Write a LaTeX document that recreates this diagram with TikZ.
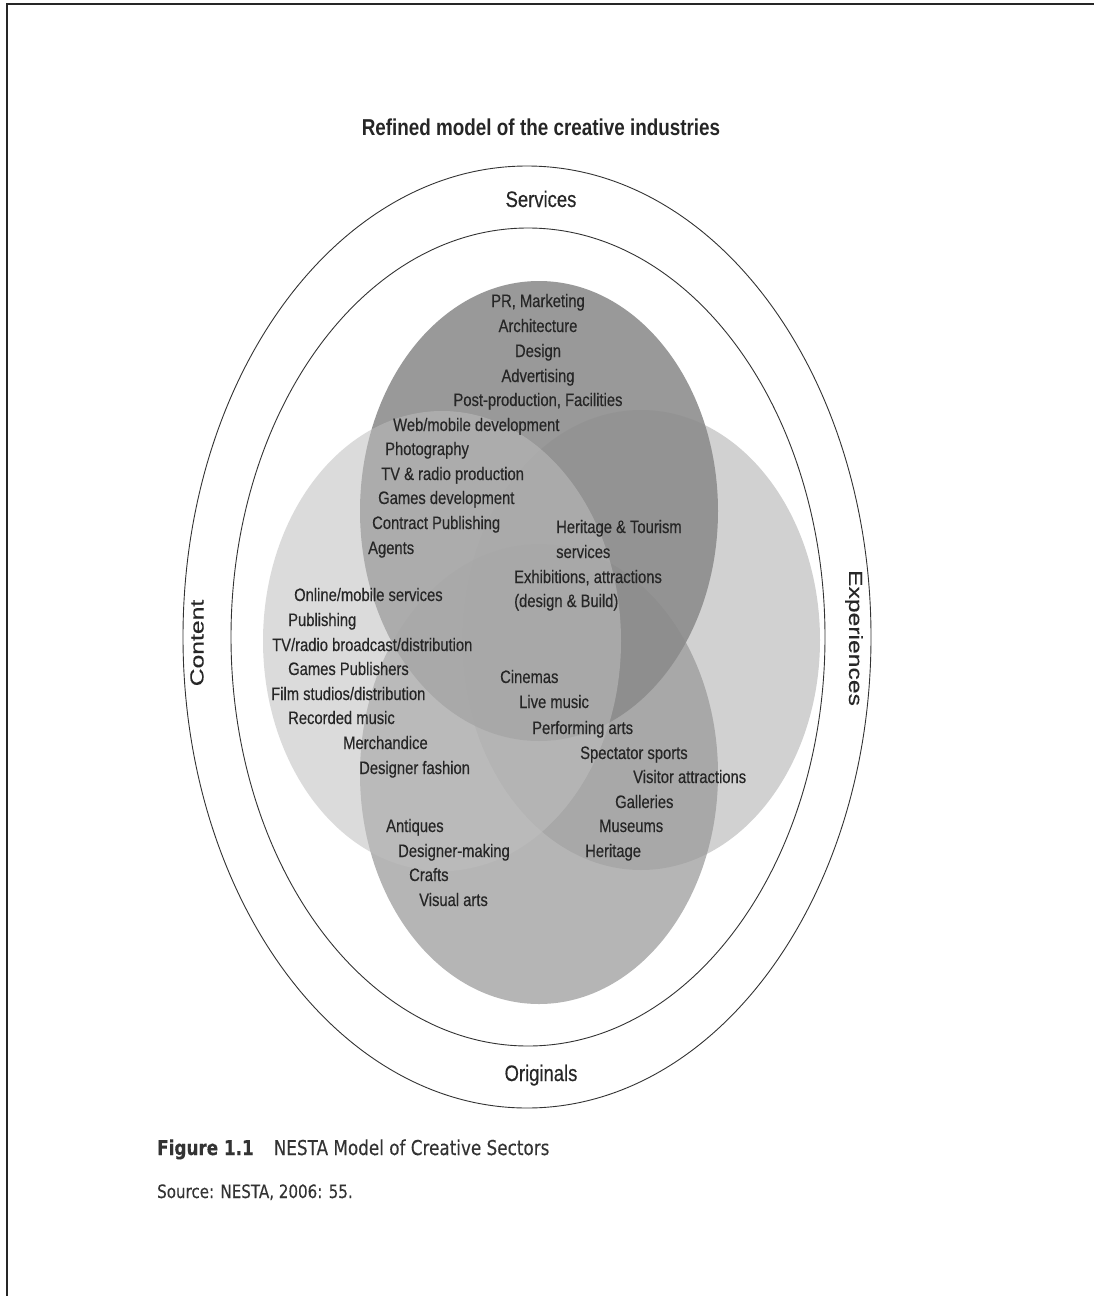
\documentclass[tikz,border=0pt]{standalone}
\usepackage{fontspec}
\setmainfont{Liberation Sans}
\newfontfamily\itemfont[FakeStretch=0.82, FakeBold=0.35]{Liberation Sans}
\newfontfamily\titlefont[FakeStretch=0.82]{Liberation Sans Bold}
\newfontfamily\sidefont[FakeStretch=1.3, FakeBold=0.3]{Liberation Sans}
\newfontfamily\capfont[FakeStretch=0.82, FakeBold=0.25]{DejaVu Sans}

\definecolor{inktext}{gray}{0.15}
\definecolor{captext}{gray}{0.2}
\definecolor{ringline}{gray}{0.2}
\definecolor{servicesgray}{gray}{0.55}
\definecolor{contentgray}{gray}{0.745}
\definecolor{experiencesgray}{gray}{0.70}
\definecolor{originalsgray}{gray}{0.60}

\def\discrx{179}
\def\discry{230}

\begin{document}
\begin{tikzpicture}[x=1pt, y=-1pt]
    \tikzstyle{ring}=[draw=ringline, line width=0.9pt]
    \tikzstyle{item}=[inner sep=0pt, anchor=base west, text=inktext, font=\itemfont\fontsize{18}{20}\selectfont]
    \tikzstyle{sector}=[inner sep=0pt, anchor=base, text=inktext, font=\itemfont\fontsize{22.5}{24}\selectfont]
    \tikzstyle{side}=[inner sep=0pt, text=inktext, font=\sidefont\fontsize{19}{21}\selectfont]
    \tikzstyle{caption}=[inner sep=0pt, anchor=base west, text=captext, font=\capfont\fontsize{20.5}{22}\selectfont]

    \useasboundingbox (0,0) rectangle (1094,1296);

    % Page frame (only the top and left edges show)
    \draw[line width=2pt, black!85] (1094,4) -- (7,4) -- (7,1296);

    \node[item, anchor=base, font=\titlefont\fontsize{23}{25}\selectfont] (title) at (541,135) {Refined model of the creative industries};

    % Outer and inner rings
    \draw[ring] (527,637) ellipse [x radius=344, y radius=471];
    \draw[ring] (528,637) ellipse [x radius=297, y radius=409];

    % The four sector discs, lighter ones laid over the darker ones
    \fill[experiencesgray, opacity=0.6] (641,640) ellipse [x radius=\discrx, y radius=\discry];
    \fill[originalsgray, opacity=0.72] (539,774) ellipse [x radius=\discrx, y radius=\discry];
    \fill[servicesgray, opacity=0.89] (539,511) ellipse [x radius=\discrx, y radius=\discry];
    \fill[contentgray, opacity=0.55] (442,641) ellipse [x radius=\discrx, y radius=\discry];

    % Ring labels
    \node[sector] (services) at (541,207) {Services};
    \node[sector] (originals) at (541,1081) {Originals};
    \node[side, rotate=90] (content) at (197,643) {Content};
    \node[side, rotate=-90] (experiences) at (854,638) {Experiences};

    % Services, centred at the top
    \foreach \name / \y [count=\i] in {{PR, Marketing}/301, Architecture/326, Design/351, Advertising/376, {Post-production, Facilities}/400}
        \node[item, anchor=base] (S-\i) at (538,\y+6) {\name};

    % Services shared with content
    \foreach \name / \x / \y [count=\i] in {{Web/mobile development}/393/425, Photography/385/449, {TV \& radio production}/381/474,
            {Games development}/378/498, {Contract Publishing}/372/523, Agents/368/548}
        \node[item] (SC-\i) at (\x,\y+6) {\name};

    % Services shared with experiences
    \foreach \name / \x / \y [count=\i] in {{Heritage \& Tourism}/556/527, services/556/552,
            {Exhibitions, attractions}/514/577, {(design \& Build)}/514/601}
        \node[item] (SE-\i) at (\x,\y+6) {\name};

    % Content
    \foreach \name / \x / \y [count=\i] in {{Online/mobile services}/294/595, Publishing/288/620, {TV/radio broadcast/distribution}/272/645,
            {Games Publishers}/288/669, {Film studios/distribution}/271/694, {Recorded music}/288/718,
            Merchandice/343/743, {Designer fashion}/359/768}
        \node[item] (C-\i) at (\x,\y+6) {\name};

    % Experiences, running down through the centre
    \foreach \name / \x / \y [count=\i] in {Cinemas/500/677, {Live music}/519/702, {Performing arts}/532/728,
            {Spectator sports}/580/753, {Visitor attractions}/633/777, Galleries/615/802,
            Museums/599/826, Heritage/585/851}
        \node[item] (E-\i) at (\x,\y+6) {\name};

    % Originals
    \foreach \name / \x / \y [count=\i] in {Antiques/386/826, Designer-making/398/851, Crafts/409/875, {Visual arts}/419/900}
        \node[item] (O-\i) at (\x,\y+6) {\name};

    % Caption and source
    \node[caption] (figcap) at (157,1155) {{\bfseries Figure 1.1}\hspace{20pt}NESTA Model of Creative Sectors};
    \node[caption, font=\capfont\fontsize{18.4}{20}\selectfont] (figsrc) at (157,1198) {Source: NESTA, 2006: 55.};
\end{tikzpicture}
\end{document}
